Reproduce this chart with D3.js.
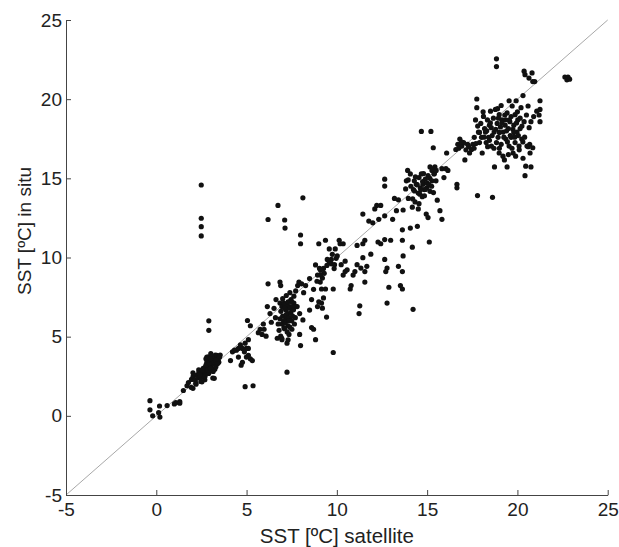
<!DOCTYPE html>
<html>
<head>
<meta charset="utf-8">
<script src="https://cdn.jsdelivr.net/npm/d3@7"></script>
<style>
    body { margin: 0; background: #fff; }
    svg { display: block; font-family: "Liberation Sans", Arial, sans-serif; }
    .tick text { fill: #222; }
</style>
</head>
<body>
<svg id="chart" width="619" height="547"></svg>
<script>
// axis limits and ticks
const xDomain = [-5, 25];
const yDomain = [-5, 25];
const tickValues = [-5, 0, 5, 10, 15, 20, 25];
const xTitle = "SST [ºC] satellite";
const yTitle = "SST [ºC] in situ";

// [satellite, in situ] pairs
const lowPts = [
    [-0.35,0.96],[-0.35,0.38],[-0.2,0.0],[0.13,0.2],[0.18,0.62],[0.2,-0.08],[0.6,0.65],[1.0,0.75],[1.08,0.83],[1.3,0.9],[1.3,0.8],
    [1.5,1.6],[1.7,1.9],[1.78,2.1],[1.93,1.8],[1.95,2.3],[2.03,2.72],[2.04,2.5],[2.03,1.74],[2.16,2.26],[2.19,2.06],[2.25,2.58],
    [2.3,2.4],[2.36,2.72],[2.47,2.17],[2.53,2.15],[2.58,2.5],[2.58,2.72],[2.69,2.72],[2.69,3.05],[2.69,2.28],[2.71,2.78],[2.8,3.38],
    [2.8,3.71],[2.81,3.1],[2.9,3.73],[2.9,2.68],[2.91,2.72],[2.91,3.05],[2.99,3.42],[3.02,3.16],[3.02,3.93],[3.08,3.0],[3.13,3.6],
    [3.13,2.39],[3.17,3.32],[3.21,2.37],[3.24,3.27],[3.24,2.94],[3.24,3.6],[3.27,3.84],[3.35,3.82],[3.36,3.63],[3.45,3.42],
    [3.46,3.38],[3.46,3.71],[3.54,3.84],[2.62,2.47],
    [2.6,3.0],[2.75,3.2],[2.85,2.9],[2.95,3.3],[3.05,3.5],[3.1,3.75],[3.2,3.4],[3.3,3.1],[3.4,3.55],[2.7,2.5],[2.45,2.4],
    [2.35,2.9],[3.5,3.7],[3.0,3.0],[3.15,2.8],[2.85,3.55],
    [2.2,2.0],[2.4,2.6],[2.55,2.9],[2.75,3.6],[3.0,3.6],[3.3,3.5],[3.4,3.3],
    [2.91,6.0],[2.91,5.4],[2.49,14.58],[2.49,12.48],[2.49,11.95],[2.49,11.36],
    [4.11,3.49],[4.22,4.04],[4.33,4.15],[4.44,4.15],[4.55,4.26],[4.66,4.48],[4.55,3.71],[4.7,3.2],[4.77,3.38],[4.88,4.04],
    [4.92,4.59],[4.99,4.26],[4.77,4.26],[4.92,1.84],[4.99,3.71]
];

const midPts = [
    [5.1,4.26],[5.1,4.81],[5.1,3.82],[5.21,3.6],[5.32,3.49],[5.05,6.02],[5.21,5.69],[5.36,1.9],
    [5.65,5.25],[5.75,5.47],[5.86,5.14],[5.97,5.47],[5.93,5.8],[6.08,5.03],[6.15,6.9],[6.19,8.34],[6.19,12.4],[6.3,6.46],
    [6.37,5.91],[6.52,6.79],[6.63,7.34],[6.74,13.29],[6.85,8.45],[6.89,8.23],[6.85,7.12],[6.96,6.9],[6.85,6.13],[6.96,5.8],
    [6.89,5.03],[6.96,4.81],[7.11,12.37],[7.13,11.86],[7.07,7.12],[7.18,6.68],[7.24,2.76],[7.24,4.59],[7.07,5.58],[7.18,6.13],
    [7.29,5.69],[7.29,6.46],[7.4,6.9],[7.46,7.34],[7.51,6.68],[7.62,7.56],[7.62,7.12],[7.72,7.89],[7.72,6.9],[7.83,8.23],
    [7.9,8.45],[7.94,6.46],[7.94,5.14],[7.99,4.44],[8.05,8.34],[7.99,11.42],[7.99,10.87],[8.12,13.77],[8.16,7.78],[8.27,8.23],
    [8.12,6.06],[7.51,5.47],[7.4,6.13],[7.24,7.01],[7.35,5.14],[7.55,6.9],[7.4,7.78],
    [6.9,6.6],[7.0,6.3],[7.05,6.0],[7.15,5.9],[7.2,6.4],[7.3,6.8],[7.35,6.2],[7.45,6.5],[7.5,6.0],[7.6,6.7],[7.1,5.5],
    [7.25,5.3],[7.4,5.6],[7.0,7.4],[7.15,7.0],[7.3,7.2],[6.8,5.4],[6.95,4.9],[7.5,7.2],[7.7,6.2],
    [6.6,6.2],[6.75,5.8],[7.1,6.8],[7.35,6.0],[7.55,6.3],[7.65,5.8],[7.8,6.9],[7.2,7.6],[6.7,4.9],[7.3,4.8],
    [8.49,8.67],[8.49,6.68],[8.6,5.58],[8.71,5.47],[8.82,4.81],[8.6,7.34],[8.71,7.99],[8.82,9.53],[8.93,8.89],[8.93,6.9],
    [9.0,10.87],[9.04,9.31],[9.08,8.45],[9.15,8.01],[9.15,7.12],[9.26,7.45],[9.26,9.31],[9.37,8.01],[9.43,6.24],[9.37,11.09],
    [9.47,9.88],[9.58,9.66],[9.58,10.54],[9.69,9.88],[9.8,4.0],[9.8,8.01],[9.91,10.54],[9.96,9.95],[9.87,9.55],
    [9.2,8.7],[9.3,9.0],[9.1,9.2],[9.7,9.6],[9.0,7.2],[9.2,6.8],
    [8.9,8.5],[9.1,8.9],[9.45,9.5],[9.75,10.2],[9.85,9.3]
];

const highPts = [
    [10.02,10.1],[10.13,11.09],[10.18,10.87],[10.35,10.87],[10.24,9.55],[10.35,8.89],[10.46,9.77],[10.46,9.11],[10.57,9.22],
    [10.74,8.01],[10.79,8.23],[10.9,8.89],[11.0,9.11],[11.12,10.76],[11.12,9.55],[11.23,6.46],[11.27,6.95],[11.33,9.33],
    [11.44,9.99],[11.44,10.87],[11.44,12.74],[11.55,11.09],[11.55,8.45],[11.55,9.11],[11.66,9.44],[11.77,12.3],[11.88,10.21],
    [11.99,12.19],[12.1,13.07],[12.21,13.29],[12.32,12.41],[12.28,10.98],[12.43,10.87],[12.43,13.29],[12.65,12.63],[12.65,14.95],
    [12.65,14.51],[12.65,9.88],[12.71,9.11],[12.65,11.13],[12.78,7.12],[12.78,9.33],[12.88,8.12],[12.98,11.09],[13.09,12.41],
    [13.19,13.73],[13.3,12.96],[13.41,13.64],[13.41,9.44],[13.52,8.23],[13.63,9.11],[13.63,11.75],[13.63,11.09],[13.67,10.1],
    [13.63,8.01],[13.67,13.0],[13.81,14.33],[13.85,14.84],[13.92,15.5],[13.96,13.73],[14.07,15.28],[14.07,11.86],[14.18,10.65],
    [14.22,6.73],
    [14.18,13.18],[14.24,14.29],[14.29,14.84],[14.33,13.51],[14.4,14.62],[14.46,11.97],[14.51,14.07],[14.51,13.07],[14.55,15.05],
    [14.62,14.4],[14.68,15.28],[14.68,17.96],[14.73,13.84],[14.77,14.62],[14.84,14.29],[14.9,14.95],[14.95,12.74],[14.99,14.4],
    [15.05,15.17],[15.05,12.52],[15.12,10.98],[15.16,15.72],[15.16,14.18],[15.21,17.96],[15.27,15.5],[15.27,14.84],[15.34,16.93],
    [15.38,15.28],[15.43,15.72],[15.49,14.84],[15.56,13.62],[15.71,12.96],[15.82,12.41],[15.82,15.61],[15.93,15.05],[16.04,15.61],
    [16.08,16.6],[16.15,15.5],[16.65,14.62],[16.65,14.4],
    [14.3,14.2],[14.45,14.6],[14.6,14.0],[14.75,14.8],[14.9,14.3],[15.0,14.7],[15.15,15.0],[15.25,14.5],[15.4,15.3],[14.2,13.7],
    [14.55,13.4],[14.85,13.9],[15.35,14.1],[13.95,14.9],
    [14.1,14.5],[14.35,15.1],[14.65,14.3],[15.1,14.6],[15.3,15.6],[14.8,15.3],[15.5,15.5]
];

const topPts = [
    [16.59,16.82],[16.7,17.15],[16.81,17.48],[16.92,17.04],[17.02,17.26],[17.09,16.16],[17.24,17.15],[17.35,16.6],[17.46,16.82],
    [17.53,17.15],[17.61,17.59],[17.68,18.69],[17.75,20.01],[17.75,19.46],[17.79,13.91],[17.84,17.92],[17.9,17.26],[17.97,18.47],
    [18.01,17.59],[18.05,16.6],[18.12,18.91],[18.18,18.14],[18.23,17.92],[18.27,17.26],[18.34,18.69],[18.4,17.59],[18.45,18.36],
    [18.51,19.24],[18.56,17.04],[18.62,13.8],[18.67,18.8],[18.71,17.92],[18.73,15.72],[18.78,19.35],[18.84,22.55],[18.84,22.06],
    [18.84,17.26],[18.88,18.47],[18.93,17.59],[18.99,19.02],[18.99,16.6],[19.06,18.25],[19.1,17.15],[19.14,18.69],[19.21,17.92],
    [19.28,16.16],[19.32,18.36],[19.36,17.48],[19.43,19.13],[19.43,15.72],[19.5,18.14],[19.54,19.9],[19.54,17.04],[19.58,18.58],
    [19.65,17.59],[19.71,19.57],[19.76,16.6],[19.8,18.36],[19.87,19.02],[19.87,17.26],[19.93,19.9],[19.98,17.92],[20.02,18.69],
    [20.09,17.04],[20.15,18.14],[20.2,19.46],[20.24,17.48],[20.31,16.27],[20.31,20.23],[20.37,21.77],[20.42,21.55],[20.37,18.58],
    [20.42,15.17],[20.46,15.77],[20.53,17.04],[20.59,19.57],[20.64,21.33],[20.68,17.15],[20.75,18.58],[20.75,15.72],[20.81,21.66],
    [20.85,21.11],[20.85,16.93],[20.96,21.11],[21.07,19.24],[21.25,19.9],[21.25,19.35],[21.25,18.58],
    [22.63,21.4],[22.74,21.22],[22.8,21.4],[22.89,21.26],
    [18.3,18.0],[18.5,18.5],[18.6,17.7],[18.8,18.1],[18.95,18.8],[19.0,17.9],[19.15,18.5],[19.25,17.6],[19.4,18.0],[19.55,18.7],
    [19.6,17.7],[19.75,18.1],[19.85,17.6],[19.95,18.5],[20.05,17.7],[20.15,18.8],[19.3,19.0],[19.0,16.9],[19.7,16.9],[20.3,17.3],
    [18.45,17.4],[19.45,17.3],[19.9,16.4],[20.6,17.0],[20.7,16.6],[18.15,17.6],[17.9,17.9],[19.2,16.4],
    [16.75,16.9],[16.9,17.3],[17.15,16.8],[17.3,17.0],[17.6,16.9],[17.7,17.2],
    [17.8,18.3],[18.1,19.2],[18.35,17.0],[18.55,18.2],[18.7,16.9],[18.9,19.4],[19.1,19.6],[19.35,18.7],[19.5,16.5],[19.65,18.9],
    [19.8,17.9],[20.0,19.2],[20.1,16.8],[20.25,18.3],[20.4,17.6],[20.5,19.0],[20.65,18.2],[20.9,18.9],[21.2,19.0]
];

const allPts = [...lowPts, ...midPts, ...highPts, ...topPts];

const svg = d3.select("#chart");
const margin = {left: 66, right: 607.7, top: 20, bottom: 495};

let x = d3.scaleLinear().domain(xDomain).range([margin.left, margin.right]);
let y = d3.scaleLinear().domain(yDomain).range([margin.bottom, margin.top]);

// 1:1 line
svg.append("line")
    .attr("x1", x(xDomain[0]))
    .attr("y1", y(yDomain[0]))
    .attr("x2", x(xDomain[1]))
    .attr("y2", y(yDomain[1]))
    .attr("stroke", "#a8a8a8")
    .attr("stroke-width", 1);

// plain hyphen for negatives, like the original
const fmt = d => String(d);

let xAxis = svg.append("g")
    .attr("transform", `translate(0,${margin.bottom})`)
    .call(d3.axisBottom(x).tickValues(tickValues).tickFormat(fmt)
        .tickSizeInner(-5).tickSizeOuter(0).tickPadding(8));

let yAxis = svg.append("g")
    .attr("transform", `translate(${margin.left},0)`)
    .call(d3.axisLeft(y).tickValues(tickValues).tickFormat(fmt)
        .tickSizeInner(-5).tickSizeOuter(0).tickPadding(4));

for (let ax of [xAxis, yAxis]) {
    ax.selectAll("path, line").attr("stroke", "#444");
    ax.selectAll("text").attr("font-size", 19).attr("font-family", "Liberation Sans, Arial, sans-serif");
}

svg.append("g")
    .selectAll("circle")
    .data(allPts)
    .join("circle")
    .attr("cx", d => x(d[0]))
    .attr("cy", d => y(d[1]))
    .attr("r", 2.6)
    .attr("fill", "#111");

svg.append("text")
    .attr("x", (margin.left + margin.right) / 2)
    .attr("y", 543)
    .attr("text-anchor", "middle")
    .attr("font-size", 20.5)
    .attr("fill", "#222")
    .text(xTitle);

svg.append("text")
    .attr("transform", "translate(31,231) rotate(-90)")
    .attr("text-anchor", "middle")
    .attr("font-size", 19)
    .attr("fill", "#222")
    .text(yTitle);
</script>
</body>
</html>
